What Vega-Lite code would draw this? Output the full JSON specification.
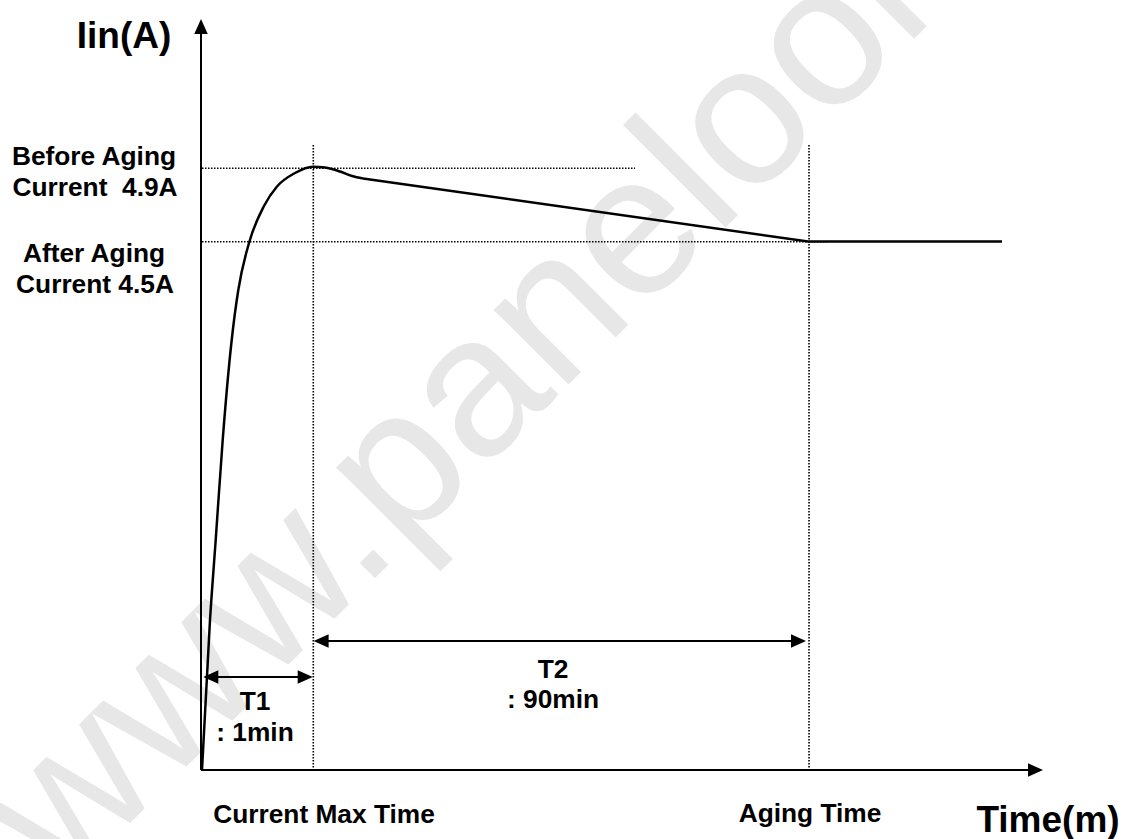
{
  "$schema": "https://vega.github.io/schema/vega-lite/v6.json",
  "width": 1131,
  "height": 839,
  "padding": 0,
  "autosize": {"type": "none"},
  "background": "white",
  "config": {"view": {"stroke": null}},
  "datasets": {
    "watermark": [{"text": "www.panelook.com", "x": -138.5, "y": -119.5}],
    "curve": [
      {"t": 0, "i": 0, "part": "rise"},
      {"t": 8, "i": 150, "part": "rise"},
      {"t": 13.7, "i": 230, "part": "rise"},
      {"t": 20.7, "i": 330, "part": "rise"},
      {"t": 29.7, "i": 430, "part": "rise"},
      {"t": 36.3, "i": 480, "part": "rise"},
      {"t": 47.3, "i": 528, "part": "rise"},
      {"t": 62, "i": 564, "part": "rise"},
      {"t": 75, "i": 583.5, "part": "rise"},
      {"t": 93, "i": 597, "part": "rise"},
      {"t": 111, "i": 603.3, "part": "rise"},
      {"t": 123, "i": 602.5, "part": "rise"},
      {"t": 138, "i": 598.5, "part": "rise"},
      {"t": 150, "i": 594, "part": "rise"},
      {"t": 161, "i": 591.5, "part": "rise"},
      {"t": 161, "i": 591.5, "part": "decay"},
      {"t": 606, "i": 528.5, "part": "decay"},
      {"t": 800, "i": 528.5, "part": "decay"}
    ],
    "guides": [
      {"name": "before aging level", "x1": 0, "y1": 601.7, "x2": 433, "y2": 601.7, "kind": "dotted"},
      {"name": "after aging level", "x1": 0, "y1": 528.3, "x2": 625, "y2": 528.3, "kind": "dotted"},
      {"name": "current max time", "x1": 111.3, "y1": 625, "x2": 111.3, "y2": 0, "kind": "dotted"},
      {"name": "aging time", "x1": 607, "y1": 625, "x2": 607, "y2": 0, "kind": "dotted"},
      {"name": "y axis", "x1": -1, "y1": 0, "x2": -1, "y2": 740, "kind": "solid"},
      {"name": "x axis", "x1": -1, "y1": 0, "x2": 830, "y2": 0, "kind": "solid"},
      {"name": "T1", "x1": 3, "y1": 93, "x2": 108, "y2": 93, "kind": "solid"},
      {"name": "T2", "x1": 114, "y1": 129, "x2": 601, "y2": 129, "kind": "solid"}
    ],
    "heads": [
      {"name": "y axis", "x": -1, "y": 751, "dir": "up"},
      {"name": "x axis", "x": 841, "y": 0, "dir": "right"},
      {"name": "T1 start", "x": 1.3, "y": 93, "dir": "left"},
      {"name": "T1 end", "x": 110.7, "y": 93, "dir": "right"},
      {"name": "T2 start", "x": 111.6, "y": 129, "dir": "left"},
      {"name": "T2 end", "x": 604, "y": 129, "dir": "right"}
    ],
    "labels": [
      {"text": "Iin(A)", "x": -78, "y": 722, "role": "title"},
      {"text": "Time(m)", "x": 846, "y": -61.7, "role": "title"},
      {"text": "Before Aging", "x": -108, "y": 605, "role": "note"},
      {"text": "Current\u00a0 4.9A", "x": -107, "y": 574, "role": "note"},
      {"text": "After Aging", "x": -108, "y": 508.3, "role": "note"},
      {"text": "Current 4.5A", "x": -107, "y": 476.7, "role": "note"},
      {"text": "T1", "x": 53, "y": 60, "role": "note"},
      {"text": ": 1min", "x": 53, "y": 29.3, "role": "note"},
      {"text": "T2", "x": 351, "y": 91.7, "role": "note"},
      {"text": ": 90min", "x": 351, "y": 61.7, "role": "note"},
      {"text": "Current Max Time", "x": 122, "y": -52.7, "role": "note"},
      {"text": "Aging Time", "x": 608, "y": -51.7, "role": "note"}
    ]
  },
  "layer": [
    {
      "data": {"name": "watermark"},
      "mark": {"type": "text", "font": "Liberation Sans", "fontSize": 200, "angle": -45, "align": "left", "baseline": "alphabetic", "color": "#e7e7e7"},
      "encoding": {
        "x": {"field": "x", "type": "quantitative", "scale": {"domain": [-202, 929], "nice": false, "zero": false}, "axis": null},
        "y": {"field": "y", "type": "quantitative", "scale": {"domain": [-69, 770], "nice": false, "zero": false}, "axis": null},
        "text": {"field": "text"}
      }
    },
    {
      "data": {"name": "guides"},
      "transform": [{"filter": "datum.kind === 'dotted'"}],
      "mark": {"type": "rule", "color": "black", "strokeWidth": 1.6, "strokeDash": [1.5, 1.5]},
      "encoding": {
        "x": {"field": "x1", "type": "quantitative", "scale": {"domain": [-202, 929], "nice": false, "zero": false}, "axis": null},
        "x2": {"field": "x2"},
        "y": {"field": "y1", "type": "quantitative", "scale": {"domain": [-69, 770], "nice": false, "zero": false}, "axis": null},
        "y2": {"field": "y2"}
      }
    },
    {
      "data": {"name": "curve"},
      "transform": [{"filter": "datum.part === 'rise'"}],
      "mark": {"type": "line", "color": "black", "strokeWidth": 2.5, "interpolate": "monotone"},
      "encoding": {
        "x": {"field": "t", "type": "quantitative", "scale": {"domain": [-202, 929], "nice": false, "zero": false}, "axis": null},
        "y": {"field": "i", "type": "quantitative", "scale": {"domain": [-69, 770], "nice": false, "zero": false}, "axis": null},
        "order": {"field": "t"}
      }
    },
    {
      "data": {"name": "curve"},
      "transform": [{"filter": "datum.part === 'decay'"}],
      "mark": {"type": "line", "color": "black", "strokeWidth": 2.5, "interpolate": "linear"},
      "encoding": {
        "x": {"field": "t", "type": "quantitative", "scale": {"domain": [-202, 929], "nice": false, "zero": false}, "axis": null},
        "y": {"field": "i", "type": "quantitative", "scale": {"domain": [-69, 770], "nice": false, "zero": false}, "axis": null},
        "order": {"field": "t"}
      }
    },
    {
      "data": {"name": "guides"},
      "transform": [{"filter": "datum.kind === 'solid'"}],
      "mark": {"type": "rule", "color": "black", "strokeWidth": 2},
      "encoding": {
        "x": {"field": "x1", "type": "quantitative", "scale": {"domain": [-202, 929], "nice": false, "zero": false}, "axis": null},
        "x2": {"field": "x2"},
        "y": {"field": "y1", "type": "quantitative", "scale": {"domain": [-69, 770], "nice": false, "zero": false}, "axis": null},
        "y2": {"field": "y2"}
      }
    },
    {
      "data": {"name": "heads"},
      "mark": {"type": "point", "filled": true, "color": "black", "opacity": 1, "size": 225, "strokeWidth": 0},
      "encoding": {
        "x": {"field": "x", "type": "quantitative", "scale": {"domain": [-202, 929], "nice": false, "zero": false}, "axis": null},
        "y": {"field": "y", "type": "quantitative", "scale": {"domain": [-69, 770], "nice": false, "zero": false}, "axis": null},
        "shape": {"field": "dir", "type": "nominal", "legend": null, "scale": {"domain": ["up", "right", "left"], "range": ["M0,0L-0.9,2L0.9,2Z", "M0,0L-2,-0.9L-2,0.9Z", "M0,0L2,-0.9L2,0.9Z"]}}
      }
    },
    {
      "data": {"name": "labels"},
      "transform": [{"filter": "datum.role === 'note'"}],
      "mark": {"type": "text", "font": "Liberation Sans", "fontWeight": "bold", "fontSize": 26.3, "align": "center", "baseline": "alphabetic", "color": "black"},
      "encoding": {
        "x": {"field": "x", "type": "quantitative", "scale": {"domain": [-202, 929], "nice": false, "zero": false}, "axis": null},
        "y": {"field": "y", "type": "quantitative", "scale": {"domain": [-69, 770], "nice": false, "zero": false}, "axis": null},
        "text": {"field": "text"}
      }
    },
    {
      "data": {"name": "labels"},
      "transform": [{"filter": "datum.role === 'title'"}],
      "mark": {"type": "text", "font": "Liberation Sans", "fontWeight": "bold", "fontSize": 37, "align": "center", "baseline": "alphabetic", "color": "black"},
      "encoding": {
        "x": {"field": "x", "type": "quantitative", "scale": {"domain": [-202, 929], "nice": false, "zero": false}, "axis": null},
        "y": {"field": "y", "type": "quantitative", "scale": {"domain": [-69, 770], "nice": false, "zero": false}, "axis": null},
        "text": {"field": "text"}
      }
    }
  ]
}
